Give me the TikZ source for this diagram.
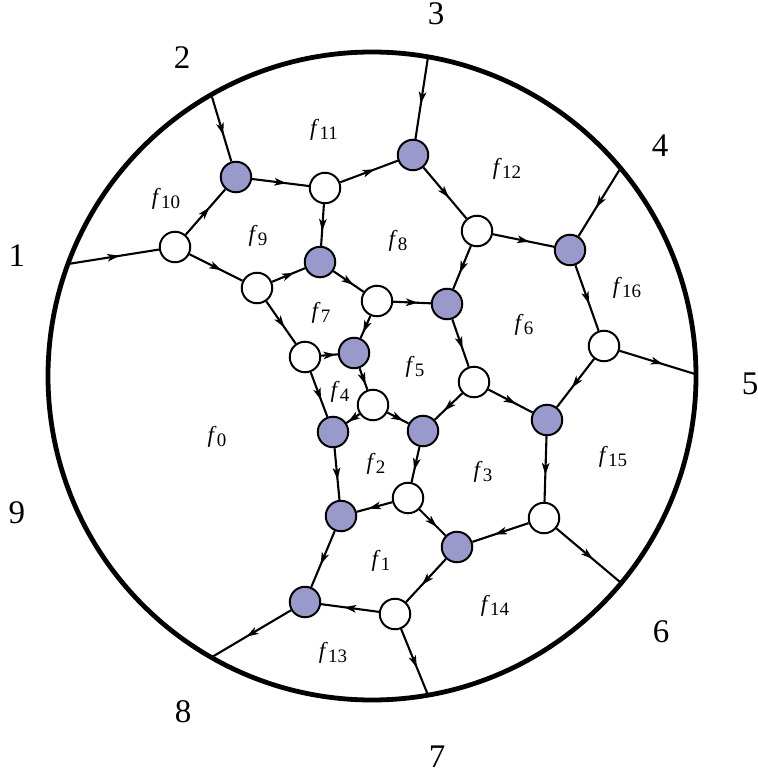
\documentclass[tikz,border=0pt]{standalone}
\usepackage{fontspec}
\setmainfont{Liberation Serif}
\usetikzlibrary{arrows.meta,decorations.markings}
\definecolor{nodeblue}{RGB}{153,153,204}
\newcommand{\fl}[1]{\textit{f}\kern0.3pt\raisebox{-3.5pt}{\fontsize{19}{19}\selectfont #1}}
\tikzset{
 wnode/.style={circle, draw=black, line width=2pt, fill=white, minimum size=30.5pt, inner sep=0pt},
 bnode/.style={wnode, fill=nodeblue},
 conn/.style={line width=2.1pt, postaction={decorate}, decoration={markings, mark=at position 0.5 with {\arrow[xshift=6pt]{Stealth[length=12pt,width=7.5pt,inset=3pt]}}}},
 lab/.style={font=\fontsize{33}{33}\selectfont, inner sep=0pt},
 face/.style={font=\fontsize{23}{23}\selectfont, inner sep=0pt}
}
\begin{document}
\begin{tikzpicture}[x=1pt,y=-1pt]
\useasboundingbox (0,0) rectangle (757,778);
\coordinate (ctr) at (372,376);
\draw[line width=4.8pt] (ctr) circle[radius=324pt];
% boundary points
\coordinate (b1) at (68,264);
\coordinate (b2) at (212,97);
\coordinate (b3) at (428,57);
\coordinate (b4) at (620,169);
\coordinate (b5) at (695,374);
\coordinate (b6) at (620,582);
\coordinate (b7) at (428,695);
\coordinate (b8) at (212,657);
% nodes
\node[wnode] (A) at (175,247) {};
\node[bnode] (B) at (236,177) {};
\node[wnode] (C) at (325,188) {};
\node[bnode] (D) at (413,155) {};
\node[wnode] (E) at (257,288) {};
\node[bnode] (F) at (320,262) {};
\node[wnode] (G) at (377,301) {};
\node[wnode] (H) at (477,231) {};
\node[bnode] (I) at (570,250) {};
\node[bnode] (J) at (447,304) {};
\node[wnode] (K) at (305,357) {};
\node[bnode] (L) at (354,353) {};
\node[wnode] (M) at (373,405) {};
\node[bnode] (N) at (333,432) {};
\node[bnode] (O) at (423,431) {};
\node[wnode] (P) at (474,382) {};
\node[wnode] (Q) at (604,346) {};
\node[bnode] (R) at (547,420) {};
\node[wnode] (S) at (408,498) {};
\node[wnode] (T) at (544,518) {};
\node[bnode] (U) at (457,547) {};
\node[bnode] (V) at (341,516) {};
\node[bnode] (W) at (305,602) {};
\node[wnode] (X) at (395,614) {};
% edges
\draw[conn] (b1) -- (A);
\draw[conn] (A) -- (B);
\draw[conn] (A) -- (E);
\draw[conn] (b2) -- (B);
\draw[conn] (B) -- (C);
\draw[conn] (C) -- (D);
\draw[conn] (C) -- (F);
\draw[conn] (b3) -- (D);
\draw[conn] (D) -- (H);
\draw[conn] (H) -- (I);
\draw[conn] (H) -- (J);
\draw[conn] (b4) -- (I);
\draw[conn] (I) -- (Q);
\draw[conn] (Q) -- (b5);
\draw[conn] (Q) -- (R);
\draw[conn] (E) -- (F);
\draw[conn] (E) -- (K);
\draw[conn] (F) -- (G);
\draw[conn] (G) -- (J);
\draw[conn] (G) -- (L);
\draw[conn] (K) -- (L);
\draw[conn] (J) -- (P);
\draw[conn] (L) -- (M);
\draw[conn] (K) -- (N);
\draw[conn] (M) -- (N);
\draw[conn] (M) -- (O);
\draw[conn] (P) -- (O);
\draw[conn] (P) -- (R);
\draw[conn] (R) -- (T);
\draw[conn] (N) -- (V);
\draw[conn] (O) -- (S);
\draw[conn] (S) -- (V);
\draw[conn] (S) -- (U);
\draw[conn] (T) -- (U);
\draw[conn] (T) -- (b6);
\draw[conn] (U) -- (X);
\draw[conn] (V) -- (W);
\draw[conn] (X) -- (W);
\draw[conn] (W) -- (b8);
\draw[conn] (X) -- (b7);
% outer labels
\node[lab] (l1) at (17,256) {1};
\node[lab] (l2) at (182,58) {2};
\node[lab] (l3) at (436,14) {3};
\node[lab] (l4) at (660,146) {4};
\node[lab] (l5) at (750,384) {5};
\node[lab] (l6) at (661,632) {6};
\node[lab] (l7) at (437,757) {7};
\node[lab] (l8) at (183,712) {8};
\node[lab] (l9) at (17,513) {9};
% face labels
\node[face] (f0) at (217,437) {\fl{0}};
\node[face] (f1) at (381,561) {\fl{1}};
\node[face] (f2) at (376,464) {\fl{2}};
\node[face] (f3) at (483,472) {\fl{3}};
\node[face] (f4) at (340,392) {\fl{4}};
\node[face] (f5) at (415,367) {\fl{5}};
\node[face] (f6) at (524,325) {\fl{6}};
\node[face] (f7) at (321,313) {\fl{7}};
\node[face] (f8) at (398,241) {\fl{8}};
\node[face] (f9) at (258,236) {\fl{9}};
\node[face] (f10) at (166,199) {\fl{10}};
\node[face] (f11) at (324,130) {\fl{11}};
\node[face] (f12) at (507,169) {\fl{12}};
\node[face] (f13) at (333,653) {\fl{13}};
\node[face] (f14) at (495,606) {\fl{14}};
\node[face] (f15) at (613,457) {\fl{15}};
\node[face] (f16) at (627,288) {\fl{16}};
\end{tikzpicture}
\end{document}
